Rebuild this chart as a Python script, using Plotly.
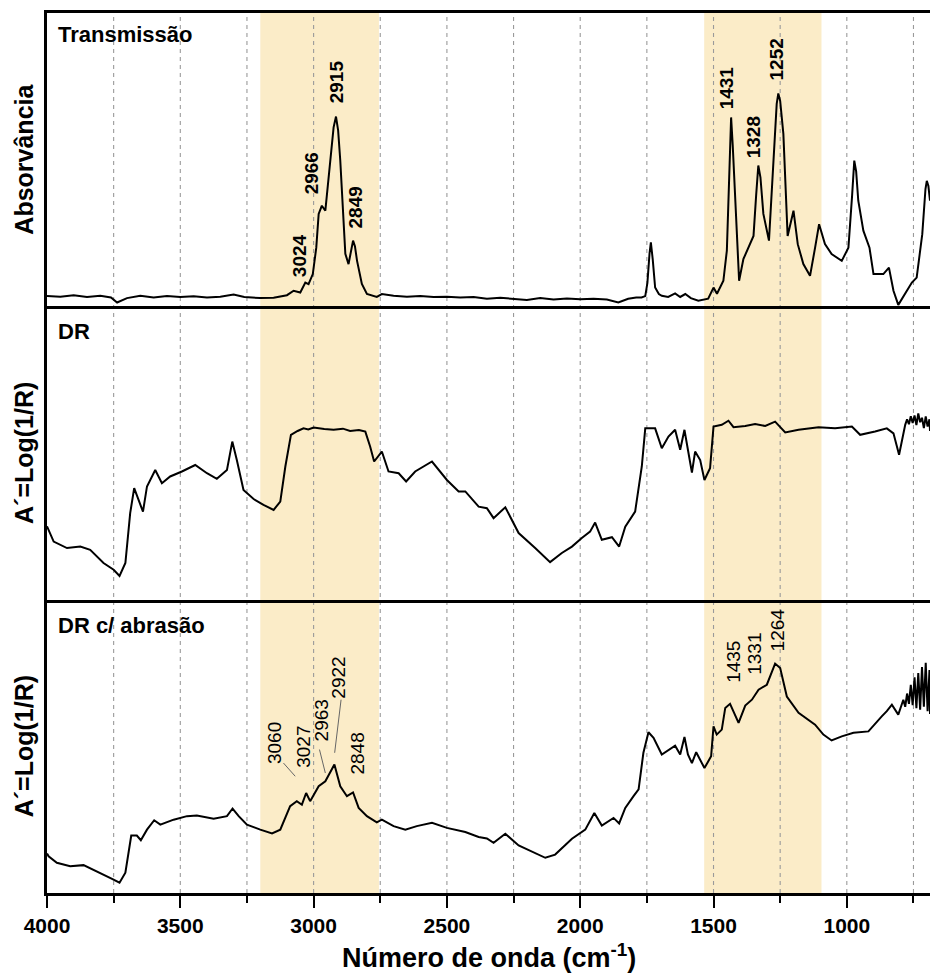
import plotly.graph_objects as go
from plotly.subplots import make_subplots

# ---------------- data (wavenumber cm-1, relative intensity 0-100 of panel height) -------------
trans_x = [4000, 3950, 3900, 3850, 3800, 3760, 3737, 3700, 3650, 3600, 3550, 3500, 3450, 3400, 3350,
           3300, 3260, 3200, 3150, 3100, 3075, 3050, 3031, 3019, 3003, 2990, 2981, 2969, 2956, 2938,
           2925, 2916, 2908, 2900, 2881, 2869, 2860, 2852, 2845, 2837, 2819, 2800, 2763, 2744, 2700,
           2650, 2600, 2550, 2500, 2450, 2400, 2350, 2300, 2250, 2200, 2150, 2100, 2050, 2000, 1950,
           1900, 1857, 1820, 1790, 1770, 1756, 1748, 1740, 1735, 1728, 1719, 1705, 1694, 1670, 1644,
           1625, 1606, 1585, 1557, 1520, 1500, 1487, 1463, 1450, 1440, 1434, 1428, 1419, 1404, 1388,
           1371, 1350, 1340, 1332, 1324, 1313, 1292, 1275, 1263, 1257, 1250, 1238, 1222, 1200, 1184,
           1163, 1138, 1119, 1104, 1082, 1057, 1019, 994, 980, 972, 965, 957, 938, 915, 900,
           863, 842, 825, 807, 781, 756, 738, 717, 705, 700, 694, 688]
trans_y = [3.5, 3.3, 3.8, 3.2, 3.6, 3.0, 1.3, 2.8, 3.6, 3.0, 3.5, 3.2, 3.4, 3.0, 3.3,
           4.0, 3.2, 2.8, 2.9, 3.8, 5.3, 4.7, 8.1, 7.6, 11.0, 20.0, 31.5, 34.3, 32.6, 49.7,
           61.0, 64.7, 60.0, 49.7, 17.9, 14.4, 18.5, 22.4, 20.5, 15.5, 7.6, 4.2, 3.2, 4.2, 3.6,
           3.3, 3.5, 3.2, 3.3, 3.0, 3.2, 2.6, 2.9, 2.6, 2.2, 2.8, 2.3, 2.7, 2.4, 2.6,
           2.3, 1.3, 2.6, 3.0, 3.0, 3.5, 8.0, 18.0, 21.8, 16.0, 6.4, 4.2, 3.6, 3.2, 4.4,
           3.2, 4.2, 2.8, 1.9, 2.6, 6.4, 4.3, 8.7, 19.0, 50.0, 64.4, 55.0, 36.0, 8.7, 16.1,
           19.5, 24.0, 38.0, 48.0, 44.0, 31.5, 22.4, 47.4, 69.0, 72.6, 70.0, 58.8, 24.0, 32.6, 21.2,
           14.4, 10.4, 20.0, 28.0, 21.2, 17.8, 15.5, 20.0, 38.0, 49.7, 46.0, 36.0, 25.8, 20.0, 11.0,
           11.0, 13.2, 5.3, 0.5, 4.2, 8.1, 9.8, 24.6, 40.0, 42.8, 41.0, 36.0]

dr_x = [4000, 3994, 3975, 3925, 3875, 3838, 3788, 3750, 3728, 3706, 3688, 3673, 3656, 3640, 3625,
        3594, 3569, 3538, 3494, 3444, 3400, 3363, 3325, 3305, 3288, 3263, 3225, 3188, 3150, 3125,
        3106, 3085, 3060, 3038, 3020, 3000, 2960, 2925, 2890, 2863, 2830, 2806, 2788, 2773, 2744,
        2719, 2681, 2653, 2619, 2556, 2500, 2456, 2431, 2381, 2350, 2325, 2281, 2231, 2169, 2113,
        2069, 2031, 1994, 1963, 1944, 1919, 1881, 1854, 1831, 1794, 1769, 1756, 1719, 1694, 1669,
        1644, 1625, 1609, 1596, 1581, 1569, 1550, 1534, 1513, 1500, 1469, 1444, 1425, 1381, 1344,
        1306, 1269, 1231, 1181, 1106, 1044, 981, 950, 894, 850, 825, 804, 781, 774, 767,
        760, 753, 746, 739, 732, 725, 718, 711, 704, 697, 690, 688]
dr_y = [25.0, 23.8, 19.8, 17.6, 18.1, 17.0, 12.5, 10.2, 8.1, 12.5, 29.5, 38.0, 34.0, 30.0, 38.6,
        44.2, 39.7, 42.0, 43.7, 45.9, 43.1, 41.2, 44.2, 53.9, 47.6, 37.4, 34.3, 32.3, 30.6, 33.4,
        45.4, 56.2, 57.5, 58.4, 58.0, 58.7, 58.2, 57.9, 58.3, 57.5, 57.8, 57.3, 52.2, 47.1, 50.5,
        43.7, 43.1, 40.3, 43.7, 47.1, 40.8, 36.9, 36.9, 31.7, 31.2, 27.8, 31.5, 22.7, 17.6, 12.8,
        15.9, 18.1, 21.0, 23.2, 26.3, 20.4, 21.3, 18.1, 24.9, 30.0, 45.4, 58.4, 58.4, 51.6, 55.6,
        57.9, 51.1, 57.9, 51.1, 43.3, 50.5, 47.6, 40.8, 44.8, 59.0, 59.6, 61.0, 58.8, 59.2, 59.9,
        59.2, 60.7, 57.0, 57.9, 58.8, 58.4, 59.0, 56.2, 57.3, 58.4, 56.7, 49.4, 59.6, 61.5, 59.8,
        62.5, 60.2, 62.8, 59.5, 63.5, 60.5, 62.0, 58.5, 62.5, 59.0, 61.5, 57.5, 59.5]

abr_x = [4000, 3994, 3963, 3913, 3863, 3813, 3756, 3728, 3706, 3684, 3663, 3648, 3625, 3598, 3575,
         3525, 3475, 3438, 3375, 3325, 3304, 3281, 3250, 3200, 3156, 3125, 3088, 3063, 3044, 3028,
         3013, 2981, 2956, 2922, 2900, 2875, 2852, 2831, 2800, 2763, 2744, 2700, 2656, 2613, 2556,
         2500, 2431, 2381, 2350, 2325, 2281, 2231, 2181, 2131, 2094, 2031, 1981, 1947, 1919, 1875,
         1854, 1831, 1800, 1781, 1763, 1744, 1725, 1694, 1644, 1625, 1609, 1596, 1581, 1565, 1534,
         1509, 1500, 1488, 1469, 1456, 1438, 1406, 1381, 1356, 1331, 1300, 1269, 1250, 1225, 1181,
         1119, 1088, 1057, 1019, 975, 919, 869, 850, 831, 819, 807, 795, 788, 781, 774,
         767, 760, 753, 746, 739, 732, 725, 718, 711, 704, 697, 690, 688]
abr_y = [13.5, 12.5, 10.3, 9.1, 9.5, 7.4, 4.8, 3.5, 6.9, 19.6, 19.6, 18.0, 21.6, 24.8, 23.3,
         25.0, 26.2, 26.4, 25.3, 26.2, 28.8, 26.2, 23.3, 21.6, 20.3, 21.6, 29.6, 31.3, 30.1, 34.1,
         31.3, 36.4, 38.1, 43.8, 36.4, 33.0, 34.3, 29.0, 26.2, 24.1, 25.0, 22.8, 21.6, 22.8, 23.9,
         22.2, 20.8, 19.1, 18.6, 17.1, 20.2, 16.2, 14.0, 12.0, 13.1, 18.5, 21.6, 27.3, 23.0, 25.6,
         23.7, 29.0, 33.0, 35.3, 47.8, 54.8, 52.9, 47.2, 50.2, 47.2, 53.2, 47.2, 44.3, 48.0, 42.6,
         46.6, 56.8, 54.0, 55.7, 63.1, 64.5, 58.0, 63.9, 65.9, 69.3, 71.0, 78.2, 76.7, 67.0, 61.4,
         57.4, 54.0, 52.0, 53.4, 54.6, 55.1, 60.2, 62.0, 64.2, 62.5, 60.8, 64.0, 65.9, 63.5, 68.0,
         64.5, 71.0, 64.0, 73.5, 63.0, 75.0, 62.5, 77.0, 63.5, 78.5, 62.0, 76.0, 61.0, 73.0, 66.0]

# peak labels: (text, x, y)
trans_peaks = ["3024", "2966", "2915", "2849", "1431", "1328", "1252"]
trans_peak_x = [3050, 3009, 2911, 2842, 1450, 1351, 1264]
trans_peak_y = [17.2, 45.4, 76.5, 33.6, 74.6, 57.7, 84.3]

abr_peaks = ["3060", "3027", "2963", "2922", "2848", "1435", "1331", "1264"]
abr_peak_x = [3144, 3038, 2969, 2906, 2835, 1428, 1345, 1260]
abr_peak_y = [51.2, 50.0, 58.8, 73.3, 47.4, 78.7, 81.5, 89.7]

# leader lines (x0, y0, x1, y1) in panel 3
leader_x0 = [3113, 2978, 2897]
leader_y0 = [44.3, 48.9, 65.9]
leader_x1 = [3069, 2956, 2921]
leader_y1 = [39.8, 40.9, 47.8]

bands = [(3200, 2755), (1535, 1095)]
grid_lines = [3750, 3500, 3250, 3000, 2750, 2500, 2250, 2000, 1750, 1500, 1250, 1000, 750]

panel_names = ["Transmissão", "DR", "DR c/ abrasão"]
y_titles = ["Absorvância", "A´=Log(1/R)", "A´=Log(1/R)"]
x_title = "Número de onda (cm<sup>-1</sup>)"

FONT = "Liberation Sans, Arial, Helvetica, sans-serif"

fig = make_subplots(rows=3, cols=1, shared_xaxes=True, vertical_spacing=0)

for i, (xs, ys) in enumerate([(trans_x, trans_y), (dr_x, dr_y), (abr_x, abr_y)]):
    fig.add_trace(go.Scatter(x=xs, y=ys, mode="lines",
                             line=dict(color="black", width=2),
                             showlegend=False, hoverinfo="skip"), row=i + 1, col=1)

for i in range(1, 4):
    xa = dict(range=[4000, 688], autorange=False, showline=True, mirror=(i == 1),
              linecolor="black", linewidth=2.5, showgrid=False, zeroline=False,
              layer="above traces")
    if i < 3:
        xa.update(ticks="", showticklabels=False)
    else:
        xa.update(ticks="outside", ticklen=12, tickwidth=2, tickcolor="black",
                  tick0=4000, dtick=500, showticklabels=True,
                  tickfont=dict(family=FONT, size=21, color="black", weight="bold"),
                  minor=dict(dtick=250, tick0=4000, ticks="outside", ticklen=7,
                             tickwidth=2, tickcolor="black", showgrid=False))
    fig.update_layout({f"xaxis{'' if i == 1 else i}": xa})
    fig.update_layout({f"yaxis{'' if i == 1 else i}": dict(
        range=[0, 100], autorange=False, showline=True, mirror=False,
        linecolor="black", linewidth=2.5, showgrid=False, zeroline=False,
        ticks="", showticklabels=False)})

shapes = []
for x0, x1 in bands:
    shapes.append(dict(type="rect", xref="x", yref="paper", x0=x0, x1=x1, y0=0, y1=1,
                       fillcolor="rgb(251,236,200)", line=dict(width=0), layer="below"))
for gx in grid_lines:
    shapes.append(dict(type="line", xref="x", yref="paper", x0=gx, x1=gx, y0=0, y1=1,
                       line=dict(color="#9a9a9a", width=1.1, dash="4px,4px"), layer="below"))
for a, b, c, d in zip(leader_x0, leader_y0, leader_x1, leader_y1):
    shapes.append(dict(type="line", xref="x3", yref="y3", x0=a, y0=b, x1=c, y1=d,
                       line=dict(color="#666666", width=1)))

ann = []
for t, x, y in zip(trans_peaks, trans_peak_x, trans_peak_y):
    ann.append(dict(text=f"<b>{t}</b>", x=x, y=y, xref="x", yref="y", textangle=-90,
                    showarrow=False, xanchor="center", yanchor="middle",
                    font=dict(family=FONT, size=19, color="black")))
for t, x, y in zip(abr_peaks, abr_peak_x, abr_peak_y):
    ann.append(dict(text=t, x=x, y=y, xref="x3", yref="y3", textangle=-90,
                    showarrow=False, xanchor="center", yanchor="middle",
                    font=dict(family=FONT, size=19, color="black")))

label_shift = [-21, -25, -25.5]
for i, name in enumerate(panel_names):
    yr = "y domain" if i == 0 else f"y{i + 1} domain"
    ann.append(dict(text=f"<b>{name}</b>", x=0, y=1, xref="paper", yref=yr,
                    xanchor="left", yanchor="middle", xshift=9, yshift=label_shift[i],
                    showarrow=False, font=dict(family=FONT, size=22, color="black")))
for i, t in enumerate(y_titles):
    yr = "y domain" if i == 0 else f"y{i + 1} domain"
    ann.append(dict(text=f"<b>{t}</b>", x=0, y=0.5, xref="paper", yref=yr,
                    xanchor="center", yanchor="middle", xshift=-23, textangle=-90,
                    showarrow=False, font=dict(family=FONT, size=25, color="black")))
ann.append(dict(text=f"<b>{x_title}</b>", x=0.5, y=0, xref="paper", yref="paper",
                xanchor="center", yanchor="middle", yshift=-63, showarrow=False,
                font=dict(family=FONT, size=27, color="black")))

fig.update_layout(width=930, height=980, margin=dict(l=47, r=0, t=13, b=86.5),
                  paper_bgcolor="white", plot_bgcolor="white",
                  shapes=shapes, annotations=ann,
                  font=dict(family=FONT, color="black"))

fig.write_html("out.html")
